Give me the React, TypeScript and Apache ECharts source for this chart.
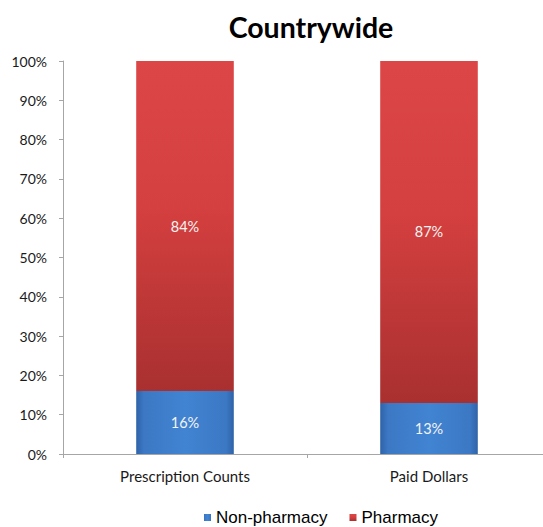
import React, { useEffect, useRef } from "react";
import * as echarts from "echarts";

const categories = ["Prescription Counts", "Paid Dollars"];
const nonPharmacy = [16, 13];
const pharmacy = [84, 87];
const seriesNames = ["Non-pharmacy", "Pharmacy"];
const titleText = "Countrywide";

export default function App() {
  const ref = useRef<HTMLDivElement>(null);
  useEffect(() => {
    if (!ref.current) return;
    const chart = echarts.init(ref.current, null, { renderer: "svg" });
    const blueGrad = new echarts.graphic.LinearGradient(0, 0, 1, 0, [
      { offset: 0, color: "#2f63a8" },
      { offset: 0.08, color: "#3c78c4" },
      { offset: 0.5, color: "#4184d2" },
      { offset: 0.92, color: "#3c78c4" },
      { offset: 1, color: "#2f63a8" },
    ]);
    const redGrad = new echarts.graphic.LinearGradient(0, 0, 0, 1, [
      { offset: 0, color: "#dc4646" },
      { offset: 0.45, color: "#d43f3f" },
      { offset: 1, color: "#a93030" },
    ]);
    const labelStyle = {
      show: true,
      position: "inside",
      color: "#f4f4f4",
      fontFamily: "Lato",
      fontSize: 14.5,
      formatter: "{c}%",
    };
    chart.setOption({
      animation: false,
      backgroundColor: "#ffffff",
      title: {
        text: titleText,
        left: 306,
        textAlign: "center",
        top: 7,
        textStyle: {
          fontFamily: "Lato",
          fontWeight: "bold",
          fontSize: 28.5,
          color: "#000000",
        },
      },
      legend: {
        bottom: -4,
        left: 199,
        itemWidth: 7,
        itemHeight: 7,
        itemGap: 22,
        icon: "rect",
        textStyle: {
          fontFamily: "Liberation Sans",
          fontSize: 17,
          color: "#000000",
        },
        data: seriesNames,
      },
      grid: {
        left: 63,
        top: 61,
        width: 488,
        height: 393,
        containLabel: false,
        outerBoundsMode: "none",
      },
      xAxis: {
        type: "category",
        data: categories,
        axisLine: { lineStyle: { color: "#a6a6a6", width: 1 } },
        axisTick: { show: true, length: 4, lineStyle: { color: "#a6a6a6" } },
        axisLabel: {
          fontFamily: "Lato",
          fontSize: 15,
          color: "#1a1a1a",
          margin: 14,
        },
      },
      yAxis: {
        type: "value",
        min: 0,
        max: 100,
        interval: 10,
        splitLine: { show: false },
        axisLine: { show: true, lineStyle: { color: "#a6a6a6", width: 1 } },
        axisTick: { show: true, length: 4, lineStyle: { color: "#a6a6a6" } },
        axisLabel: {
          fontFamily: "Lato",
          fontSize: 14,
          color: "#1a1a1a",
          margin: 16,
          formatter: "{value}%",
        },
      },
      series: [
        {
          name: seriesNames[0],
          type: "bar",
          stack: "total",
          barWidth: "40%",
          data: nonPharmacy,
          itemStyle: { color: blueGrad },
          label: labelStyle,
        },
        {
          name: seriesNames[1],
          type: "bar",
          stack: "total",
          barWidth: "40%",
          data: pharmacy,
          itemStyle: { color: redGrad },
          label: labelStyle,
        },
      ],
    });
    return () => chart.dispose();
  }, []);
  return (
    <div
      ref={ref}
      style={{ position: "fixed", left: 0, top: 0, width: 543, height: 527 }}
    />
  );
}
